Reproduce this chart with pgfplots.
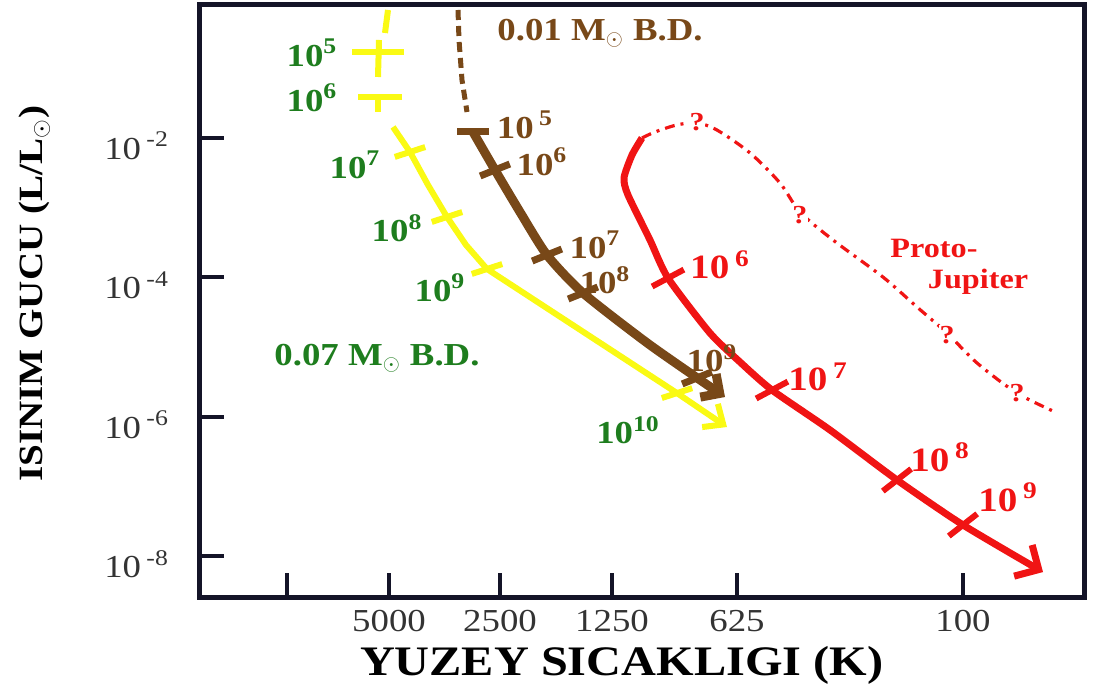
\documentclass[border=0pt]{standalone}
\usepackage{pgfplots}
\pgfplotsset{compat=1.18}
\usepackage{fontspec}
\setmainfont{Liberation Serif}
\newfontfamily\wide[FakeStretch=1.15]{Liberation Serif}
\usetikzlibrary{arrows.meta}
\definecolor{ylw}{RGB}{250,250,20}
\definecolor{brn}{RGB}{120,72,24}
\definecolor{rd}{RGB}{240,20,20}
\definecolor{grn}{RGB}{30,125,30}
\definecolor{frame}{RGB}{20,20,40}
\newcommand\lab{\wide\fontsize{16}{16}\selectfont\bfseries}
\newcommand\rlab{\wide\fontsize{17}{17}\selectfont\bfseries}
\begin{document}
\begin{tikzpicture}
\begin{axis}[
  scale only axis, width=442pt, height=296pt,
  at={(0,0)}, anchor=south west,
  xmin=200, xmax=1084,
  ymode=log, ymin=2.6e-9, ymax=0.809,
  yminorticks=false,
  axis line style={line width=2.5pt, frame},
  xtick={287,389,500,612,737,963},
  xticklabels={,5000,2500,1250,625,100},
  ytick={1e-8,1e-6,1e-4,1e-2},
  yticklabels={10\,\textsuperscript{-8},10\,\textsuperscript{-6},10\,\textsuperscript{-4},10\,\textsuperscript{-2}},
  tick style={line width=2pt, frame},
  major tick length=12pt,
  tick align=inside,
  xtick pos=bottom, ytick pos=left,
  xticklabel style={font=\wide\fontsize{16}{16}\selectfont, text=black!80, yshift=-3pt},
  yticklabel style={font=\wide\fontsize{16}{16}\selectfont, text=black!80, xshift=-12pt, yshift=-4pt},
  clip=false,
]
% ---- yellow: 0.07 Msun brown dwarf ----
\addplot[ylw, line width=3pt] coordinates {(388,0.686) (385,0.321)};
\addplot[ylw, line width=3pt] coordinates {(379,0.2547) (378,0.0750)};
\addplot[ylw, line width=3pt] coordinates {(378,0.0387) (378,0.0236)};
\addplot[ylw, line width=3pt, -{Straight Barb[length=8pt,width=14pt]}] coordinates {
 (393,0.01439) (410,6.30e-3) (428,2.12e-3) (447,7.36e-4) (466,2.92e-4) (487,1.32e-4) (677,2.19e-6) (727,7.14e-7)};
\addplot[only marks, mark=-, mark size=13pt, mark options={ylw, line width=3pt}] coordinates {(378,0.1714)};
\addplot[only marks, mark=-, mark size=11pt, mark options={ylw, line width=3pt}] coordinates {(380,0.0387)};
\addplot[only marks, mark=-, mark size=8pt, mark options={ylw, line width=3pt, rotate=18}] coordinates {
 (410,6.30e-3) (447,7.36e-4) (487,1.32e-4) (677,2.19e-6)};
% ---- brown: 0.01 Msun brown dwarf ----
\addplot[brn, line width=2.5pt, dash pattern=on 5pt off 3pt] coordinates {(458,0.686) (459,0.2547) (462,0.0679) (467,0.0236)};
\addplot[brn, line width=4.5pt, smooth, tension=0.4, -{Straight Barb[length=7pt,width=14pt]}] coordinates {
 (473,0.01219) (495,3.475e-3) (520,8.67e-4) (547,2.094e-4) (583,5.97e-5) (650,1.072e-5) (725,1.923e-6)};
\addplot[only marks, mark=-, mark size=8pt, mark options={brn, line width=3.5pt}] coordinates {(473,0.01219)};
\addplot[only marks, mark=-, mark size=8pt, mark options={brn, line width=3.5pt, rotate=22}] coordinates {
 (495,3.475e-3) (547,2.094e-4) (583,5.97e-5) (697,3.61e-6)};
% ---- red: proto-Jupiter ----
\addplot[rd, line width=1.6pt, smooth, tension=0.5, dash pattern=on 5pt off 3pt on 1.5pt off 3pt] coordinates {
 (642,0.0100) (655,0.0122) (677,0.0154) (697,0.0164) (717,0.0130) (750,6.10e-3) (780,2.26e-3) (800,8.67e-4)
 (833,3.44e-4) (883,1.01e-4) (917,3.76e-5) (947,1.59e-5) (977,5.92e-6) (1017,2.19e-6) (1057,1.14e-6)};
\addplot[rd, line width=3.5pt, smooth, tension=0.4, -{Straight Barb[length=9pt,width=18pt]}] coordinates {
 (642,0.0100) (632,5.70e-3) (624,2.67e-3) (628,1.52e-3) (650,3.44e-4) (668,9.79e-5) (710,1.59e-5)
 (740,6.11e-6) (772,2.42e-6) (830,6.47e-7) (897,1.24e-7) (963,2.81e-8) (1043,5.93e-9)};
\addplot[only marks, mark=-, mark size=9pt, mark options={rd, line width=3pt, rotate=28}] coordinates {(668,9.79e-5) (772,2.42e-6)};
\addplot[only marks, mark=-, mark size=9pt, mark options={rd, line width=3pt, rotate=38}] coordinates {(897,1.24e-7) (963,2.81e-8)};
% ---- labels ----
\begin{scope}[grn]
\node[font=\lab] at (rel axis cs:0.1267,0.9189) {10\textsuperscript{5}};
\node[font=\lab] at (rel axis cs:0.1267,0.8429) {10\textsuperscript{6}};
\node[font=\lab] at (rel axis cs:0.1753,0.7297) {10\textsuperscript{7}};
\node[font=\lab] at (rel axis cs:0.2229,0.6233) {10\textsuperscript{8}};
\node[font=\lab] at (rel axis cs:0.2715,0.5220) {10\textsuperscript{9}};
\node[font=\lab] at (rel axis cs:0.4842,0.2821) {10\textsuperscript{10}};
\node[font=\lab] at (rel axis cs:0.2002,0.4037) {0.07 M$_{\odot}$ B.D.};
\end{scope}
\begin{scope}[brn]
\node[font=\lab] at (rel axis cs:0.4525,0.9527) {0.01 M$_{\odot}$ B.D.};
\node[font=\lab] at (rel axis cs:0.3676,0.7973) {10\,\textsuperscript{5}};
\node[font=\lab] at (rel axis cs:0.3869,0.7348) {10\textsuperscript{6}};
\node[font=\lab] at (rel axis cs:0.4468,0.5946) {10\textsuperscript{7}};
\node[font=\lab] at (rel axis cs:0.4581,0.5355) {10\textsuperscript{8}};
\node[font=\lab] at (rel axis cs:0.5792,0.4037) {10\textsuperscript{9}};
\end{scope}
\begin{scope}[rd]
\node[font=\rlab] at (rel axis cs:0.5882,0.5608) {10\,\textsuperscript{6}};
\node[font=\rlab] at (rel axis cs:0.6991,0.3716) {10\,\textsuperscript{7}};
\node[font=\rlab] at (rel axis cs:0.8371,0.2365) {10\,\textsuperscript{8}};
\node[font=\rlab] at (rel axis cs:0.9140,0.1689) {10\,\textsuperscript{9}};
\node[font=\wide\fontsize{14}{14}\selectfont\bfseries, inner sep=0pt] at (rel axis cs:0.8303,0.5880) {Proto-};
\node[font=\wide\fontsize{14}{14}\selectfont\bfseries, inner sep=0pt] at (rel axis cs:0.8801,0.5330) {Jupiter};
\node[font=\wide\fontsize{13}{13}\selectfont\bfseries, fill=white, inner sep=0.5pt] at (rel axis cs:0.5622,0.8024) {?};
\node[font=\wide\fontsize{13}{13}\selectfont\bfseries, fill=white, inner sep=0.5pt] at (rel axis cs:0.6787,0.6453) {?};
\node[font=\wide\fontsize{13}{13}\selectfont\bfseries, fill=white, inner sep=0.5pt] at (rel axis cs:0.8450,0.4426) {?};
\node[font=\wide\fontsize{13}{13}\selectfont\bfseries, fill=white, inner sep=0.5pt] at (rel axis cs:0.9242,0.3446) {?};
\end{scope}
\node[font=\wide\fontsize{17}{17}\selectfont\bfseries, rotate=90] at (rel axis cs:-0.187,0.512) {ISINIM GUCU (L/L$_{\odot}$)};
\node[font=\wide\fontsize{21}{21}\selectfont\bfseries] at (rel axis cs:0.477,-0.115) {YUZEY SICAKLIGI (K)};
\end{axis}
\pgfresetboundingbox
\useasboundingbox (-100pt,-49pt) rectangle (453.5pt,298.5pt);
\end{tikzpicture}
\end{document}
